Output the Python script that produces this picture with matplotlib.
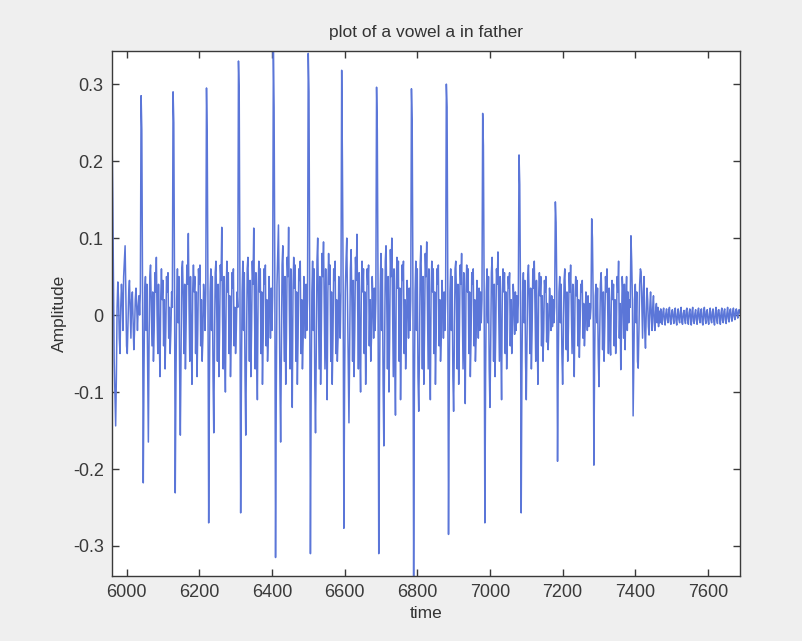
"""
Waveform of the vowel /a/ (as in "father"), samples 5960-7688
"""

import numpy as np
import matplotlib.pyplot as plt

# sample spacing of the stored waveform (every 2nd sample kept)
start_sample = 5960
sample_step = 2

# amplitude, one block per glottal period (pulse at the start of each block)
amplitude = [
    # lead-in before first pulse
    0.236, 0.150, 0.040, -0.060, -0.100, -0.144, -0.080, 0.010, 0.043, 0.020, -0.030, -0.050,
    0.010, 0.040, 0.020, -0.020, 0.050, 0.070, 0.090, 0.030, -0.040, -0.050, -0.010, 0.030,
    0.045, 0.010, -0.030, 0.020, 0.030, -0.010, -0.045, -0.020, 0.020, 0.035, 0.010, -0.020,
    0.010, 0.025, 0.000, 0.030,
    # ~6040
    0.285, 0.240, 0.030, -0.218, -0.070, 0.030, 0.050, -0.020, 0.040, -0.060, -0.165, -0.030,
    0.050, 0.065, 0.010, -0.040, 0.030, -0.060, -0.020, 0.055, 0.030, 0.075, 0.000, -0.050,
    0.040, -0.030, -0.080, 0.020, 0.060, 0.020, 0.045, -0.040, 0.020, -0.070, -0.020, 0.050,
    0.030, 0.055, -0.030, 0.010, -0.050, -0.020, 0.030, 0.010,
    # ~6128
    0.290, 0.250, 0.040, -0.231, -0.080, 0.020, 0.060, -0.010, 0.050, -0.070, -0.156, -0.040,
    0.060, 0.070, 0.020, -0.050, 0.040, -0.070, -0.010, 0.065, 0.040, 0.106, 0.010, -0.060,
    0.050, -0.030, -0.090, 0.030, 0.065, 0.030, 0.050, -0.050, 0.030, -0.080, -0.020, 0.060,
    0.040, 0.065, -0.040, 0.020, -0.060, -0.030, 0.040, 0.020, -0.020, 0.030,
    # ~6220
    0.295, 0.230, 0.030, -0.270, -0.090, 0.030, 0.060, -0.020, 0.050, -0.080, -0.153, -0.040,
    0.055, 0.070, 0.010, -0.060, 0.040, -0.080, -0.020, 0.065, 0.045, 0.114, 0.000, -0.070,
    0.050, -0.040, -0.100, 0.020, 0.070, 0.030, 0.055, -0.050, 0.025, -0.080, -0.030, 0.055,
    0.035, 0.060, -0.040, 0.010, -0.050, -0.020, 0.030, 0.010,
    # ~6308
    0.330, 0.290, 0.040, -0.257, -0.090, 0.030, 0.070, -0.020, 0.055, -0.080, -0.156, -0.040,
    0.060, 0.075, 0.020, -0.060, 0.045, -0.080, -0.020, 0.070, 0.040, 0.113, 0.010, -0.070,
    0.055, -0.040, -0.110, 0.030, 0.070, 0.030, 0.060, -0.050, 0.030, -0.090, -0.030, 0.060,
    0.040, 0.065, -0.040, 0.020, -0.060, -0.030, 0.050, 0.020, -0.030, 0.035, -0.020, 0.025,
    # ~6404
    0.343, 0.270, 0.050, -0.315, -0.100, 0.040, 0.080, 0.117, 0.030, -0.080, -0.165, -0.050,
    0.065, 0.090, 0.020, -0.060, 0.050, -0.090, -0.030, 0.075, 0.050, 0.114, 0.010, -0.070,
    0.060, -0.040, -0.120, 0.030, 0.075, 0.035, 0.065, -0.060, 0.030, -0.090, -0.030, 0.060,
    0.045, 0.070, -0.050, 0.020, -0.070, -0.030, 0.050, 0.025, -0.030, 0.040, -0.020, 0.020,
    # ~6500
    0.340, 0.290, 0.040, -0.310, -0.100, 0.030, 0.070, -0.020, 0.060, -0.090, -0.153, -0.050,
    0.070, 0.100, 0.020, -0.070, 0.050, -0.090, -0.020, 0.080, 0.050, 0.095, 0.010, -0.070,
    0.060, -0.040, -0.110, 0.030, 0.080, 0.040, 0.065, -0.060, 0.030, -0.090, -0.030, 0.060,
    0.045, 0.070, -0.050, 0.020, -0.060, -0.030, 0.050, 0.020, -0.030, 0.030,
    # ~6592
    0.318, 0.200, 0.040, -0.277, -0.090, 0.030, 0.070, 0.100, 0.020, -0.070, -0.140, -0.040,
    0.060, 0.085, 0.020, -0.060, 0.045, -0.080, -0.020, 0.075, 0.045, 0.105, 0.010, -0.070,
    0.055, -0.040, -0.100, 0.030, 0.070, 0.030, 0.060, -0.050, 0.030, -0.090, -0.030, 0.060,
    0.040, 0.065, -0.040, 0.020, -0.060, -0.030, 0.050, 0.020, -0.030, 0.035, -0.020, 0.020,
    # ~6688
    0.296, 0.240, 0.040, -0.310, -0.110, 0.030, 0.080, -0.020, 0.060, -0.090, -0.170, -0.050,
    0.070, 0.090, 0.020, -0.070, 0.050, -0.100, -0.030, 0.085, 0.050, 0.100, 0.010, -0.080,
    0.060, -0.050, -0.130, 0.030, 0.075, 0.035, 0.070, -0.060, 0.035, -0.110, -0.030, 0.065,
    0.045, 0.070, -0.050, 0.020, -0.070, -0.030, 0.045, 0.020, -0.030, 0.035, -0.020, 0.020,
    # ~6784
    0.294, 0.250, 0.040, -0.339, -0.100, 0.030, 0.070, -0.020, 0.060, -0.080, -0.125, -0.050,
    0.065, 0.090, 0.020, -0.070, 0.050, -0.090, -0.020, 0.080, 0.050, 0.095, 0.010, -0.070,
    0.060, -0.040, -0.110, 0.030, 0.070, 0.030, 0.060, -0.050, 0.030, -0.090, -0.030, 0.060,
    0.040, 0.065, -0.040, 0.020, -0.060, -0.030, 0.045, 0.020, -0.030, 0.030, -0.020, 0.020,
    # ~6880
    0.300, 0.270, 0.040, -0.285, -0.090, 0.030, 0.060, -0.020, 0.050, -0.080, -0.125, -0.040,
    0.060, 0.070, 0.020, -0.070, 0.040, -0.090, -0.020, 0.065, 0.040, 0.080, 0.010, -0.070,
    0.055, -0.040, -0.115, 0.030, 0.065, 0.030, 0.060, -0.050, 0.030, -0.080, -0.030, 0.055,
    0.040, 0.060, -0.040, 0.020, -0.060, -0.030, 0.045, 0.025, -0.030, 0.035, -0.020, 0.030,
    -0.010, 0.020,
    # ~6980
    0.262, 0.220, 0.030, -0.270, -0.080, 0.030, 0.060, -0.010, 0.050, -0.070, -0.120, -0.040,
    0.055, 0.075, 0.020, -0.060, 0.040, -0.080, -0.020, 0.060, 0.040, 0.082, 0.010, -0.060,
    0.050, -0.040, -0.110, 0.030, 0.060, 0.030, 0.055, -0.050, 0.030, -0.070, -0.020, 0.050,
    0.035, 0.055, -0.040, 0.020, -0.050, -0.020, 0.040, 0.020, -0.025, 0.030, -0.020, 0.025,
    -0.010, 0.015,
    # ~7080
    0.208, 0.170, 0.030, -0.257, -0.070, 0.030, 0.055, -0.010, 0.045, -0.060, -0.110, -0.030,
    0.050, 0.065, 0.020, -0.050, 0.035, -0.070, -0.020, 0.060, 0.035, 0.070, 0.010, -0.060,
    0.045, -0.030, -0.090, 0.025, 0.055, 0.025, 0.050, -0.040, 0.025, -0.060, -0.020, 0.045,
    0.030, 0.050, -0.035, 0.015, -0.045, -0.020, 0.035, 0.015, -0.020, 0.025, -0.015, 0.020,
    -0.010, 0.010,
    # ~7180
    0.147, 0.120, 0.030, -0.190, -0.060, 0.030, 0.050, -0.010, 0.040, -0.050, -0.090, -0.030,
    0.045, 0.060, 0.015, -0.045, 0.030, -0.060, -0.015, 0.055, 0.030, 0.065, 0.010, -0.050,
    0.040, -0.030, -0.080, 0.020, 0.050, 0.025, 0.045, -0.040, 0.020, -0.055, -0.015, 0.040,
    0.030, 0.045, -0.030, 0.015, -0.040, -0.015, 0.030, 0.015, -0.020, 0.025, -0.015, 0.015,
    -0.005, 0.010,
    # ~7280
    0.125, 0.100, 0.020, -0.195, -0.060, 0.025, 0.040, -0.010, 0.035, -0.050, -0.093, -0.030,
    0.040, 0.055, 0.015, -0.045, 0.030, -0.060, -0.015, 0.050, 0.030, 0.060, 0.010, -0.050,
    0.035, -0.025, -0.052, 0.020, 0.045, 0.020, 0.040, -0.040, 0.020, -0.050, -0.015, 0.050,
    0.030, 0.070, -0.030, 0.015, -0.071, -0.020, 0.050, 0.030, -0.030, 0.040, -0.045, 0.020,
    0.050, -0.020, 0.030, -0.010, 0.020, 0.010,
    # ~7388, last pulse and decay
    0.103, 0.070, 0.020, -0.131, -0.050, 0.020, 0.040, -0.010, 0.030, -0.060, -0.069, -0.020,
    0.040, 0.060, 0.056, 0.010, -0.030, 0.030, 0.050, -0.020, -0.043, 0.000, 0.035, 0.020,
    -0.015, -0.026, 0.010, 0.030, 0.000, -0.020, 0.010, 0.025, -0.010, -0.020, 0.005, 0.015,
    -0.010, 0.010, -0.015, 0.005,
    -0.010, 0.008, -0.004, -0.012, 0.004, 0.009, -0.006, -0.013, 0.002, 0.008, -0.005, -0.010,
    0.006, 0.010, -0.008, -0.012, 0.003, 0.007, -0.004, -0.011, 0.005, 0.009, -0.007, -0.013,
    0.001, 0.008, -0.006, -0.010, 0.004, 0.010, -0.009, -0.012, 0.002, 0.006, -0.005, -0.011,
    0.006, 0.009, -0.007, -0.012, 0.003, 0.008, -0.004, -0.013, 0.005, 0.010, -0.008, -0.011,
    0.002, 0.007, -0.006, -0.012, 0.004, 0.009, -0.005, -0.010, 0.006, 0.008, -0.009, -0.013,
    0.003, 0.010, -0.004, -0.011, 0.005, 0.007, -0.007, -0.012, 0.001, 0.009, -0.006, -0.010,
    0.004, 0.008, -0.008, -0.013, 0.002, 0.010, -0.005, -0.011, 0.006, 0.007, -0.004, -0.012,
    0.003, 0.009, -0.007, -0.010, 0.005, 0.008, -0.006, -0.011, 0.002, 0.010, -0.004, -0.009,
    0.006, 0.008, -0.003, -0.008, 0.004, 0.009, -0.002, -0.006, 0.005, 0.008, 0.000, -0.004,
    0.006, 0.007, 0.002,
]

x_ticks = [6000, 6200, 6400, 6600, 6800, 7000, 7200, 7400, 7600]
y_ticks = [-0.3, -0.2, -0.1, 0, 0.1, 0.2, 0.3]
y_tick_labels = ['-0.3', '-0.2', '-0.1', '0', '0.1', '0.2', '0.3']

amplitude = np.array(amplitude)
time = start_sample + sample_step * np.arange(len(amplitude))

plt.rcParams['font.family'] = ['Liberation Sans', 'DejaVu Sans']

fig = plt.figure(figsize=(8.03, 6.41), dpi=100, facecolor='#efefef')
ax = fig.add_axes([0.1395, 0.1014, 0.782, 0.819])
ax.set_facecolor('white')

ax.plot(time, amplitude, color='#5b76d8', linewidth=1.1)

# tight limits like MATLAB's "axis tight"
ax.set_xlim(time[0], time[-1])
ax.set_ylim(amplitude.min(), amplitude.max())

ax.set_xticks(x_ticks)
ax.set_yticks(y_ticks)
ax.set_yticklabels(y_tick_labels)
ax.tick_params(direction='in', length=5, width=1, top=True, right=True,
               labelsize=13, colors='#3a3a3a', pad=6)
for spine in ax.spines.values():
    spine.set_color('#3a3a3a')
    spine.set_linewidth(1.0)

ax.set_title('plot of a vowel a in father', fontsize=12.5, color='#333333', pad=10)
ax.set_xlabel('time', fontsize=12.5, color='#333333', labelpad=3)
ax.set_ylabel('Amplitude', fontsize=12.5, color='#333333', labelpad=4)

plt.savefig('out.png', dpi=100, facecolor=fig.get_facecolor())
